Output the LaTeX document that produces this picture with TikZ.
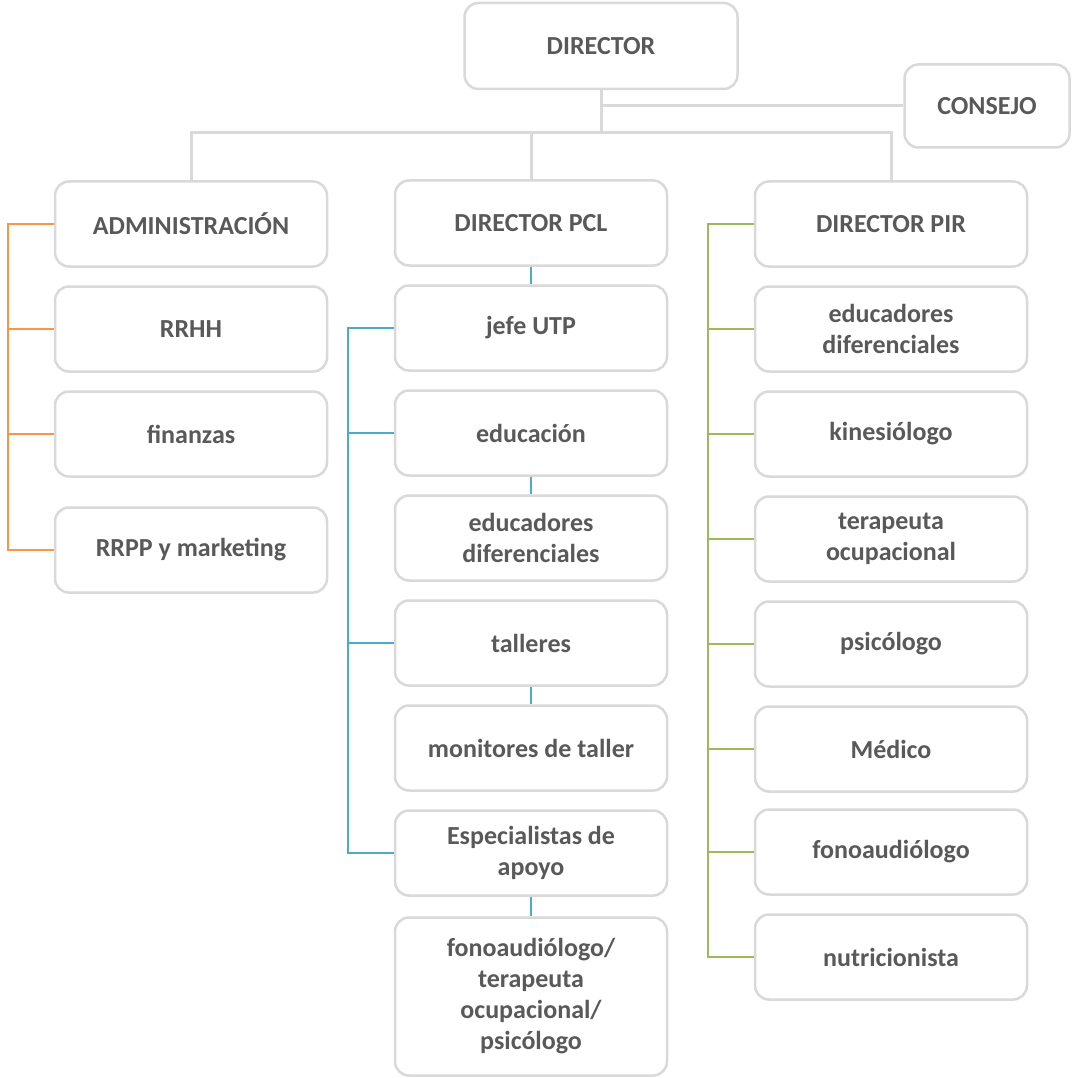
\documentclass[tikz,border=0pt]{standalone}
\usepackage{fontspec}
\setmainfont{Carlito}
\usetikzlibrary{positioning}
\definecolor{orgInk}{HTML}{595959}
\definecolor{orgFrame}{HTML}{D9D9D9}
\definecolor{orgAdmin}{HTML}{F79646}
\definecolor{orgPcl}{HTML}{4BACC6}
\definecolor{orgPir}{HTML}{9BBB59}

\begin{document}
\begin{tikzpicture}[
  x=1pt,y=-1pt,
  font=\bfseries\fontsize{26}{31}\selectfont,
  node distance=17.5pt,
  unit/.style={draw=orgFrame,line width=2.5pt,fill=white,rounded corners=14pt,minimum width=272pt,minimum height=85pt,align=center,text=orgInk,inner sep=4pt},
  link/.style={orgFrame,line width=3pt},
  branch/.style={draw=#1,line width=2.8pt}
]
  \useasboundingbox (0,0) rectangle (1073,1078);
  % top level
  \node[unit,minimum width=273pt,minimum height=86pt] (director) at (601,46) {DIRECTOR};
  \node[unit,minimum width=165pt,minimum height=83pt] (consejo) at (987,106) {CONSEJO};
  \coordinate (top) at (601,133);
  % administration column
  \node[unit] (admin) at (191,224) {ADMINISTRACIÓN};
  \node[unit,below=of admin] (rrhh) {RRHH};
  \node[unit,below=of rrhh] (finanzas) {finanzas};
  \node[unit,below=28.5pt of finanzas] (rrpp) {RRPP y marketing};
  % PCL column
  \node[unit] (pcl) at (531,223) {DIRECTOR PCL};
  \node[unit,below=of pcl] (jefe) {jefe UTP};
  \node[unit,below=of jefe] (educacion) {educación};
  \node[unit,below=of educacion] (difpcl) {educadores\\diferenciales};
  \node[unit,below=of difpcl] (talleres) {talleres};
  \node[unit,below=of talleres] (monitores) {monitores de taller};
  \node[unit,below=of monitores] (apoyo) {Especialistas de\\apoyo};
  \node[unit,minimum height=158pt,below=19.5pt of apoyo] (terapias) {fonoaudiólogo/\\terapeuta\\ocupacional/\\psicólogo};
  % PIR column
  \node[unit] (pir) at (891,224) {DIRECTOR PIR};
  \node[unit,below=of pir] (difpir) {educadores\\diferenciales};
  \node[unit,below=of difpir] (kine) {kinesiólogo};
  \node[unit,below=of kine] (terapeuta) {terapeuta\\ocupacional};
  \node[unit,below=of terapeuta] (psico) {psicólogo};
  \node[unit,below=of psico] (medico) {Médico};
  \node[unit,below=15.5pt of medico] (fonopir) {fonoaudiólogo};
  \node[unit,below=of fonopir] (nutri) {nutricionista};
  \coordinate (abus) at (8,0);
  \coordinate (pclbus) at (348,0);
  \coordinate (pirbus) at (708,0);

  % grey tree
  \draw[link] (director) -- (top);
  \draw[link] (director.south |- consejo.west) -- (consejo.west);
  \draw[link] (admin.north) |- (top) -| (pir.north);
  \draw[link] (pcl.north) -- (pcl.north |- top);
  % administration
  \draw[branch=orgAdmin] (admin.west) -| (abus |- rrpp.west) -- (rrpp.west);
  \draw[branch=orgAdmin] (rrhh.west) -- (rrhh.west -| abus);
  \draw[branch=orgAdmin] (finanzas.west) -- (finanzas.west -| abus);
  % PCL
  \draw[branch=orgPcl] (jefe.west) -| (pclbus |- apoyo.west) -- (apoyo.west);
  \draw[branch=orgPcl] (educacion.west) -- (educacion.west -| pclbus);
  \draw[branch=orgPcl] (talleres.west) -- (talleres.west -| pclbus);
  \draw[branch=orgPcl] (pcl) -- (jefe);
  \draw[branch=orgPcl] (educacion) -- (difpcl);
  \draw[branch=orgPcl] (talleres) -- (monitores);
  \draw[branch=orgPcl] (apoyo) -- (terapias);
  % PIR
  \draw[branch=orgPir] (pir.west) -| (pirbus |- nutri.west) -- (nutri.west);
  \draw[branch=orgPir] (difpir.west) -- (difpir.west -| pirbus);
  \draw[branch=orgPir] (kine.west) -- (kine.west -| pirbus);
  \draw[branch=orgPir] (terapeuta.west) -- (terapeuta.west -| pirbus);
  \draw[branch=orgPir] (psico.west) -- (psico.west -| pirbus);
  \draw[branch=orgPir] (medico.west) -- (medico.west -| pirbus);
  \draw[branch=orgPir] (fonopir.west) -- (fonopir.west -| pirbus);
\end{tikzpicture}
\end{document}
